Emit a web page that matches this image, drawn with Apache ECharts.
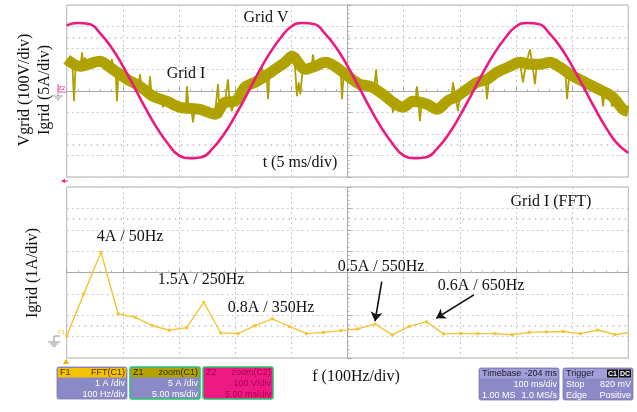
<!DOCTYPE html>
<html><head><meta charset="utf-8">
<script src="https://cdn.jsdelivr.net/npm/echarts@6/dist/echarts.min.js"></script>
<style>html,body{margin:0;padding:0;background:#fff}#c{width:637px;height:412px}</style>
</head><body><div id="c"></div>
<script>
// ---- top panel: time domain (ms), Grid V (V), Grid I (A)
const timeMs = [0,1,2,3,4,5,6,7,8,9,10,11,12,13,14,15,16,17,18,19,20,21,22,23,24,25,26,27,28,29,30,31,32,33,34,35,36,37,38,39,40,41,42,43,44,45,46,47,48,49,50];
const gridV = [305,316,312,267,201,116,20,-79,-169,-244,-300,-312,-308,-267,-201,-116,-20,79,169,244,300,316,312,267,201,116,20,-79,-169,-244,-300,-312,-308,-267,-201,-116,-20,79,169,244,300,316,312,267,201,116,20,-79,-169,-244,-288];
// Grid I band centre
const bandT = [0,1.18,2.96,3.86,5.37,6.52,7.68,8.93,10.09,11.87,13.2,14.09,14.98,15.87,16.76,17.65,18.55,19.44,20.06,21.22,22.11,23.0,23.89,25.4,26.11,27.0,28.16,29.05,29.94,30.83,32.08,32.97,33.86,34.75,35.64,36.53,37.42,38.31,39.47,40.36,41.25,42.14,43.03,43.92,45.08,45.97,46.86,47.75,48.64,49.53,50];
const bandI = [7.37,5.75,6.91,5.51,2.72,1.09,-1.23,-2.4,-3.79,-4.26,-5.42,-2.63,-2.4,0.86,2.02,3.42,5.05,6.68,8.07,5.05,5.75,6.68,5.75,2.72,1.56,1.09,-0.77,-2.63,-3.79,-2.4,-3.09,-4.26,-2.4,-1.23,0.4,2.02,2.72,4.35,5.75,6.68,6.21,6.21,6.68,5.51,3.42,2.26,1.09,-0.07,-1.47,-4.26,-4.72];
// Grid I noisy trace with spikes [ms, A]
const gridISpikes = [[0,7.37],[0.5,6.6],[0.65,-2.4],[0.8,6.2],[1.25,5.8],[1.36,9.0],[1.5,5.9],[1.63,7.8],[1.75,6.0],[2.96,6.91],[3.9,5.5],[4.03,7.4],[4.15,5.2],[4.35,4.6],[4.48,-2.4],[4.6,4.2],[5.37,2.72],[6.4,1.4],[6.53,3.9],[6.65,1.0],[7.3,-0.3],[7.42,3.4],[7.55,-0.9],[8.45,-2.0],[8.57,-3.8],[8.7,-2.2],[10.09,-3.79],[10.6,-3.9],[10.71,1.1],[10.85,-4.0],[11.1,-4.1],[11.24,-7.3],[11.4,-4.2],[11.87,-4.26],[13.2,-5.42],[13.3,-5.3],[13.47,1.6],[13.6,-4.5],[13.74,-6.1],[13.9,-3.5],[14.09,-2.63],[14.25,-2.6],[14.36,2.7],[14.5,-2.5],[14.72,-4.7],[14.85,-2.4],[15.87,0.86],[16.76,2.02],[17.25,2.9],[17.39,5.7],[17.5,3.1],[17.8,3.5],[17.93,-1.9],[18.05,4.0],[18.55,5.05],[19.44,6.68],[19.9,7.5],[20.06,8.5],[20.3,6.5],[20.5,-1.2],[20.65,2.0],[20.8,-0.8],[21.0,5.0],[21.22,5.05],[21.8,5.6],[21.93,8.5],[22.05,5.8],[23.0,6.68],[23.89,5.75],[24.4,4.5],[24.51,-1.9],[24.65,3.6],[25.4,2.72],[26.11,1.56],[27.0,1.09],[27.4,1.0],[27.54,5.0],[27.7,0.3],[28.16,-0.77],[28.9,-2.3],[29.05,-5.0],[29.2,-2.9],[29.94,-3.79],[30.83,-2.4],[31.05,-2.5],[31.19,1.1],[31.32,-2.8],[31.45,-7.0],[31.6,-2.9],[32.08,-3.09],[32.97,-4.26],[33.86,-2.4],[34.25,-1.9],[34.39,2.0],[34.6,-1.2],[34.84,-4.7],[35.0,-0.8],[35.64,0.4],[36.53,2.02],[37.3,2.6],[37.42,-1.9],[37.6,3.0],[37.95,4.6],[38.1,3.9],[38.31,4.35],[39.47,5.75],[40.36,6.68],[40.5,6.6],[40.62,2.0],[40.9,6.4],[41.25,9.7],[41.45,6.3],[41.69,1.6],[41.85,6.2],[42.14,6.21],[43.03,6.68],[43.92,5.51],[44.4,4.6],[44.55,-1.9],[44.75,3.9],[45.08,5.0],[45.25,3.2],[45.97,2.26],[46.86,1.09],[47.6,0.1],[47.75,-3.6],[47.9,-0.2],[48.4,-1.2],[48.55,-3.6],[48.7,-1.6],[49.53,-4.26],[50,-4.72]];
// ---- bottom panel: FFT of Grid I
const fftHz = [0,30.5,61,91.5,122,152.5,183,213.5,244,274.5,305,335.5,366,396.5,427,457.5,488,518.5,549,579.5,610,640.5,671,701.5,732,762.5,793,823.5,854,884.5,915,945.5,976,1006.5];
const fftA = [0.03,2.0,3.95,1.07,0.9,0.51,0.3,0.42,1.6,0.17,0.14,0.51,0.83,0.48,0.14,0.2,0.28,0.36,0.59,0.08,0.48,0.69,0.13,0.15,0.14,0.14,0.09,0.2,0.22,0.24,0.14,0.31,0.1,0.2];

const zip = (a,b)=>a.map((v,i)=>[v,b[i]]);
const SERIF = 'Liberation Serif';
const SANS = 'Liberation Sans';
const gridCol = '#c9c9c9';
const split = {show:true, lineStyle:{color:gridCol, type:[2,3], width:1}};
const centerAxis = {show:true, lineStyle:{color:'#a8a8a8', width:1}};
const tick = {show:true, inside:true, length:4, lineStyle:{color:'#a8a8a8'}};
const minor = {show:true, splitNumber:5, length:2, lineStyle:{color:'#b8b8b8'}};

function txt(s, x, y, opt){
  return Object.assign({type:'text', x:x, y:y, style:{text:s, x:0, y:0, fill:'#111', font:'16px "'+SERIF+'"', textAlign:'center', textVerticalAlign:'middle'}, z:50}, opt||{});
}
function box(x, y, w, c){
  const ch = [];
  ch.push({type:'rect', shape:{x:0,y:0,width:w,height:32,r:2}, style:{fill:c.body, stroke:c.border||'#7a78b0', lineWidth:c.border?1.5:0.8}});
  ch.push({type:'rect', shape:{x:1,y:1,width:w-2,height:9.5}, style:{fill:c.head}});
  const f = '9px "'+SANS+'"';
  ch.push({type:'text', style:{text:c.h1, x:3, y:6, fill:c.hc, font:f, textVerticalAlign:'middle'}});
  ch.push({type:'text', style:{text:c.h2, x:w-2, y:6, fill:c.hc, font:f, textAlign:'right', textVerticalAlign:'middle'}});
  c.lines.forEach((ln,i)=>{
    if(ln[0]) ch.push({type:'text', style:{text:ln[0], x:3, y:17+i*10.3, fill:c.bc, font:f, textVerticalAlign:'middle'}});
    if(ln[1]) ch.push({type:'text', style:{text:ln[1], x:w-2, y:17+i*10.3, fill:c.bc, font:f, textAlign:'right', textVerticalAlign:'middle'}});
  });
  if(c.extra) c.extra.forEach(e=>ch.push(e));
  return {type:'group', x:x, y:y, children:ch, z:60};
}
const lav = '#8c89c7';

const chart = echarts.init(document.getElementById('c'), null, {renderer:'canvas'});
chart.setOption({
  animation:false,
  backgroundColor:'#ffffff',
  grid:[
    {left:66.7, top:5, width:561.6, height:172, show:true, borderColor:'#b0b0b0', borderWidth:1, backgroundColor:'transparent'},
    {left:66.7, top:187, width:561.6, height:171, show:true, borderColor:'#b0b0b0', borderWidth:1, backgroundColor:'transparent'}
  ],
  xAxis:[
    {type:'value', gridIndex:0, min:0, max:50, interval:5, position:'bottom', offset:-86,
     axisLine:Object.assign({onZero:false}, centerAxis), axisTick:tick, minorTick:minor, axisLabel:{show:false}, splitLine:split},
    {type:'value', gridIndex:1, min:0, max:1000, interval:100, position:'bottom', offset:-85.5,
     axisLine:Object.assign({onZero:false}, centerAxis), axisTick:tick, minorTick:minor, axisLabel:{show:false}, splitLine:split}
  ],
  yAxis:[
    {type:'value', gridIndex:0, min:-400, max:400, interval:100, position:'left', offset:-280.8,
     axisLine:Object.assign({onZero:false}, centerAxis), axisTick:tick, minorTick:minor, axisLabel:{show:false}, splitLine:split},
    {type:'value', gridIndex:0, min:-20, max:20, show:false, splitLine:{show:false}},
    {type:'value', gridIndex:1, min:-1, max:7, interval:1, position:'left', offset:-280.8,
     axisLine:Object.assign({onZero:false}, centerAxis), axisTick:tick, minorTick:minor, axisLabel:{show:false}, splitLine:split}
  ],
  series:[
    {type:'line', xAxisIndex:0, yAxisIndex:1, data:zip(bandT,bandI), showSymbol:false, smooth:0.3,
     lineStyle:{color:'#b0a300', width:11}, z:3, silent:true,
     markLine:{silent:true, symbol:'none', label:{show:false}, lineStyle:{color:'#bdbdbd', type:[1.5,4.5], width:1.5},
       data:[{yAxis:12.5},{yAxis:-12.5}]}},
    {type:'line', xAxisIndex:0, yAxisIndex:1, data:gridISpikes, showSymbol:false,
     lineStyle:{color:'#ada000', width:1.8}, z:4, silent:true},
    {type:'line', xAxisIndex:0, yAxisIndex:0, data:zip(timeMs,gridV), showSymbol:false, smooth:true,
     lineStyle:{color:'#ec1a80', width:2.6}, z:5, silent:true},
    {type:'line', xAxisIndex:1, yAxisIndex:2, data:zip(fftHz,fftA), symbol:'rect', symbolSize:3, showSymbol:true,
     itemStyle:{color:'#f4c438'}, lineStyle:{color:'#f4c438', width:1.4}, z:5, silent:true,
     markLine:{silent:true, label:{show:false}, symbol:'none',
       lineStyle:{color:'#bdbdbd', type:[1.5,4.5], width:1.5},
       data:[{yAxis:5.5},{yAxis:0.5}]}},
    {type:'line', xAxisIndex:1, yAxisIndex:2, data:[], silent:true,
     markLine:{silent:true, label:{show:false}, symbol:['none','arrow'], symbolSize:9,
       lineStyle:{color:'#111', type:'solid', width:1.6},
       data:[
         [{coord:[561,2.57]},{coord:[549,0.72]}],
         [{coord:[725,1.95]},{coord:[658,0.86]}]
       ]}}
  ],
  graphic:[
    txt('Grid V', 266, 18),
    txt('Grid I', 186, 74),
    txt('t (5 ms/div)', 300, 163),
    txt('Vgrid (100V/div)', 25, 90, {rotation:Math.PI/2}),
    txt('Igrid (5A/div)', 45, 90, {rotation:Math.PI/2}),
    txt('Igrid (1A/div)', 33, 273, {rotation:Math.PI/2}),
    txt('4A / 50Hz', 130, 237),
    txt('1.5A / 250Hz', 201, 280),
    txt('0.8A / 350Hz', 271, 308),
    txt('Grid I (FFT)', 551, 202),
    txt('0.5A / 550Hz', 381, 267),
    txt('0.6A / 650Hz', 481, 286),
    txt('f (100Hz/div)', 356, 377),
    // channel markers
    {type:'text', x:58, y:88, style:{text:'Z2', fill:'#ec1a80', font:'6px "'+SANS+'"', textAlign:'left', textVerticalAlign:'middle'}, z:50},
    {type:'polyline', shape:{points:[[58,84],[58,92],[66,92]]}, style:{stroke:'#ec1a80', lineWidth:0.8, fill:null}, z:50},
    {type:'polyline', shape:{points:[[58,92],[58,96]]}, style:{stroke:'#888', lineWidth:0.8}, z:50},
    {type:'line', shape:{x1:53,y1:96,x2:63,y2:96}, style:{stroke:'#888', lineWidth:0.8}, z:50},
    {type:'line', shape:{x1:55,y1:98,x2:61,y2:98}, style:{stroke:'#888', lineWidth:0.8}, z:50},
    {type:'line', shape:{x1:57,y1:100,x2:59,y2:100}, style:{stroke:'#888', lineWidth:0.8}, z:50},
    {type:'text', x:58, y:332, style:{text:'F1', fill:'#f4c438', font:'6px "'+SANS+'"', textAlign:'left', textVerticalAlign:'middle'}, z:50},
    {type:'polyline', shape:{points:[[60,336],[54,336],[54,342]]}, style:{stroke:'#777', lineWidth:0.8, fill:null}, z:50},
    {type:'line', shape:{x1:48,y1:342,x2:60,y2:342}, style:{stroke:'#777', lineWidth:0.8}, z:50},
    {type:'line', shape:{x1:50,y1:344,x2:58,y2:344}, style:{stroke:'#777', lineWidth:0.8}, z:50},
    {type:'line', shape:{x1:52,y1:346,x2:56,y2:346}, style:{stroke:'#777', lineWidth:0.8}, z:50},
    {type:'polygon', shape:{points:[[61,181],[65,179],[65,183]]}, style:{fill:'#ec1a80'}, z:50},
    {type:'line', shape:{x1:64,y1:181,x2:68,y2:181}, style:{stroke:'#ec1a80', lineWidth:1}, z:50},
    {type:'polygon', shape:{points:[[66,358.5],[63,364],[69,364]]}, style:{fill:'#f2b600'}, z:50},
    // status boxes
    box(57, 367, 70, {body:lav, head:'#f6c200', hc:'#3a2e00', bc:'#ffffff', h1:'F1', h2:'FFT(C1)', lines:[['', '1 A /div'],['', '100 Hz/div']]}),
    box(130, 367, 70, {body:lav, head:'#b1a400', hc:'#2f2a00', bc:'#ffffff', border:'#20c868', h1:'Z1', h2:'zoom(C1)', lines:[['', '5 A /div'],['', '5.00 ms/div']]}),
    box(203, 367, 70, {body:'#ee1a84', head:'#ee1a84', hc:'#a80050', bc:'#a80050', border:'#20c868', h1:'Z2', h2:'zoom(C2)', lines:[['', '100 V/div'],['', '5.00 ms/div']]}),
    box(479, 368, 80, {body:lav, head:'#a19ed8', hc:'#1a1a2a', bc:'#ffffff', h1:'Timebase', h2:'-204 ms', lines:[['', '100 ms/div'],['1.00 MS', '1.0 MS/s']]}),
    box(563, 368, 70, {body:lav, head:'#a19ed8', hc:'#1a1a2a', bc:'#ffffff', h1:'Trigger', h2:'', lines:[['Stop', '820 mV'],['Edge', 'Positive']],
      extra:[
        {type:'rect', shape:{x:44,y:1.5,width:11,height:8}, style:{fill:'#111'}},
        {type:'rect', shape:{x:56,y:1.5,width:12,height:8}, style:{fill:'#111'}},
        {type:'text', style:{text:'C1', x:49.5, y:6, fill:'#fff', font:'bold 7px "'+SANS+'"', textAlign:'center', textVerticalAlign:'middle'}},
        {type:'text', style:{text:'DC', x:62, y:6, fill:'#fff', font:'bold 7px "'+SANS+'"', textAlign:'center', textVerticalAlign:'middle'}}
      ]})
  ]
});
</script></body></html>
